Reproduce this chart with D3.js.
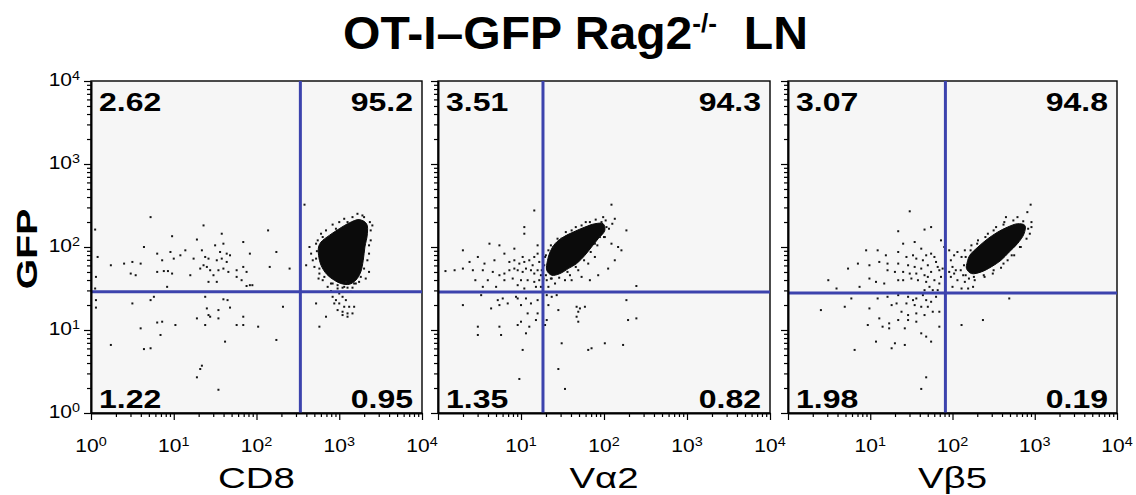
<!DOCTYPE html>
<html><head><meta charset="utf-8">
<script src="https://cdn.jsdelivr.net/npm/d3@7"></script>
<style>
html,body{margin:0;padding:0;background:#fff;}
svg{display:block;}
text{font-family:"Liberation Sans",Arial,Helvetica,sans-serif;fill:#000;}
</style></head><body>
<svg id="chart" width="1136" height="495"></svg>
<script>
// ---------------- data ----------------
const titleMain = "OT-I\u2013GFP Rag2";
const titleSup = "-/-";
const titleTail = "  LN";
const yAxisTitle = "GFP";
const panelMarkers = ["CD8", "V\u03b12", "V\u03b25"];
const decadeTicks = [1, 10, 100, 1000, 10000];
const decadeExponents = ["0", "1", "2", "3", "4"];
const gateX = [339, 18.4, 82];      // marker gate per panel
const gateY = [28.8, 28.7, 27.9];   // GFP gate per panel
const quadUL = ["2.62", "3.51", "3.07"];
const quadUR = ["95.2", "94.3", "94.8"];
const quadLL = ["1.22", "1.35", "1.98"];
const quadLR = ["0.95", "0.82", "0.19"];

// dense population outlines, [log10 marker, log10 GFP]
const cd8Core = [[2.78,2.06],[2.88,2.14],[3.00,2.22],[3.12,2.29],[3.24,2.33],[3.33,2.28],[3.34,2.16],[3.31,2.00],[3.29,1.84],[3.26,1.70],[3.20,1.60],[3.12,1.55],[3.02,1.56],[2.94,1.60],[2.85,1.67],[2.78,1.78],[2.75,1.90],[2.75,2.00]];
const va2Core = [[1.35,1.94],[1.41,2.04],[1.51,2.12],[1.63,2.18],[1.77,2.24],[1.89,2.28],[1.99,2.28],[2.01,2.20],[1.93,2.10],[1.85,2.00],[1.77,1.90],[1.67,1.80],[1.57,1.74],[1.47,1.68],[1.37,1.66],[1.31,1.72],[1.32,1.84]];
const vb5Core = [[2.21,1.90],[2.31,2.00],[2.43,2.10],[2.55,2.18],[2.67,2.24],[2.79,2.28],[2.88,2.26],[2.87,2.16],[2.79,2.04],[2.69,1.94],[2.59,1.84],[2.47,1.76],[2.35,1.70],[2.23,1.68],[2.17,1.74],[2.18,1.82]];

// individual events outside the dense core, [log10 marker, log10 GFP]
const cd8Events = [
[0.72,2.36],[1.36,2.26],[2.58,2.51],[2.14,2.20],[0.05,2.21],[1.58,2.16],[0.98,2.13],[1.28,2.09],[1.84,2.06],[1.50,2.02],[1.60,2.04],[0.64,2.00],[0.80,1.92],[0.96,1.94],[1.14,1.96],[1.34,1.96],[1.56,1.94],[1.64,1.92],[1.68,1.90],[1.92,1.92],[2.24,1.94],[0.08,1.88],[0.40,1.80],[0.50,1.82],[0.60,1.80],[0.86,1.84],[1.00,1.86],[1.08,1.90],[1.24,1.86],[1.38,1.88],[1.42,1.86],[1.52,1.84],[1.58,1.86],[1.64,1.82],[1.36,1.78],[1.40,1.76],[1.32,1.74],[1.44,1.72],[1.54,1.72],[1.60,1.74],[1.66,1.70],[1.76,1.72],[1.84,1.76],[1.88,1.70],[0.80,1.70],[0.88,1.71],[0.93,1.71],[0.48,1.68],[0.54,1.66],[0.98,1.68],[1.20,1.66],[1.48,1.66],[1.42,1.58],[1.52,1.58],[1.76,1.64],[1.82,1.60],[1.88,1.53],[1.92,1.54],[1.95,1.54],[0.92,1.52],[0.06,1.64],[0.05,1.50],[2.40,1.74],[2.16,1.76],[0.24,1.78],
[0.76,1.40],[0.72,1.36],[0.50,1.32],[0.06,1.36],[0.06,1.27],[1.38,1.40],[1.60,1.37],[1.65,1.36],[1.68,1.27],[1.40,1.26],[1.54,1.24],[1.42,1.18],[1.44,1.16],[1.28,1.14],[1.54,1.14],[1.38,1.06],[1.84,1.16],[1.76,1.06],[1.84,1.06],[2.02,1.04],[2.32,1.28],[1.02,1.06],[0.86,1.10],[0.80,1.09],[0.60,1.02],[0.84,0.94],[1.62,0.86],[2.24,0.88],[0.24,0.82],[0.64,0.77],[0.72,0.78],[1.34,0.57],[1.32,0.53],[1.28,0.43],[1.54,0.28],
[3.04,1.40],[2.92,1.40],[2.96,1.36],[3.08,1.36],[2.94,1.32],[3.00,1.32],[3.06,1.28],[3.12,1.28],[3.18,1.28],[3.04,1.22],[3.10,1.20],[3.16,1.20],[3.04,1.18],[3.10,1.16],[2.98,1.24],[2.84,1.16],[2.76,1.04],[2.72,1.32],
[2.64,2.00],[2.66,1.92],[2.68,1.84],[2.70,1.76],[2.76,1.68],[2.80,1.60],[2.86,1.52],[2.92,1.56],[2.98,1.54],[3.04,1.51],[3.10,1.51],[3.16,1.51],[3.20,1.56],[3.36,1.70],[3.38,2.08],[3.40,2.26],[3.28,2.38],[3.22,2.40],[3.10,2.30],[2.96,2.22],[2.80,2.12],[2.72,2.04],[2.75,1.62],[3.36,1.92],[3.32,1.62],[3.24,1.58],[3.08,1.58],[2.60,1.78],
[2.73,1.95],[2.74,2.08],[2.78,2.16],[2.84,2.20],[2.92,2.27],[3.00,2.30],[3.06,2.34],[3.16,2.36],[3.30,2.36],[3.37,2.30],[3.38,2.20],[3.36,2.02],[3.34,1.84],[3.30,1.74],[3.26,1.64],[3.18,1.56],[3.06,1.52],[2.98,1.50],[2.90,1.56],[2.82,1.64],[2.76,1.74],[2.72,1.86],[3.14,1.46],[3.00,1.44],[2.90,1.47]
];
const va2Events = [
[0.30,1.96],[0.62,2.04],[0.74,2.02],[0.80,1.92],[0.48,1.88],[0.38,1.82],[0.56,1.80],[0.68,1.84],[0.86,1.82],[0.92,1.84],[0.98,1.80],[1.04,1.82],[1.10,1.84],[1.16,1.88],[1.20,1.92],[1.22,1.82],[0.09,1.71],[0.20,1.72],[0.42,1.72],[0.54,1.72],[0.66,1.70],[0.74,1.66],[0.80,1.68],[0.86,1.72],[0.92,1.74],[0.96,1.72],[1.02,1.70],[1.06,1.74],[1.12,1.72],[1.16,1.68],[1.20,1.72],[1.24,1.66],[0.45,1.60],[0.60,1.60],[0.80,1.60],[0.90,1.62],[1.00,1.60],[1.08,1.60],[1.16,1.58],[1.22,1.60],[0.54,1.52],[0.70,1.52],[0.96,1.54],[1.04,1.50],[1.18,1.52],[1.24,1.52],[1.16,2.44],[1.04,2.24],[1.04,2.16],[1.20,2.02],[0.92,1.98],[1.02,1.88],[1.14,1.78],[0.30,1.74],
[0.52,1.42],[0.72,1.36],[0.78,1.38],[0.96,1.38],[1.06,1.38],[0.94,1.40],[0.30,1.30],[0.64,1.26],[0.74,1.30],[0.84,1.32],[1.00,1.30],[1.12,1.32],[1.20,1.36],[1.20,1.20],[1.08,1.20],[1.18,1.12],[1.00,1.10],[0.96,1.06],[1.10,1.04],[1.06,0.96],[0.74,1.04],[0.48,1.04],[0.48,0.94],[0.76,0.94],[1.02,0.76],[0.98,0.41],
[1.31,1.42],[1.37,1.40],[1.43,1.42],[1.33,1.30],[1.45,1.24],[1.31,1.12],[1.29,1.06],[1.67,1.28],[1.71,1.26],[1.69,1.22],[1.67,1.16],[1.69,1.10],[1.77,1.28],[2.27,1.36],[2.29,1.12],[2.39,1.14],[1.49,0.84],[1.81,0.76],[1.85,0.78],[2.01,0.84],[2.23,0.82],[1.45,0.53],[1.53,0.29],
[2.09,2.51],[1.99,2.36],[2.13,2.34],[2.01,2.12],[2.09,2.04],[2.17,2.00],[2.21,1.96],[2.27,2.20],[2.13,1.84],[2.05,1.74],[1.93,1.66],[1.83,1.60],[1.73,1.64],[1.61,1.60],[1.53,1.60],[1.41,1.56],[1.33,1.52],[1.31,1.60],[1.37,1.62],[2.39,1.53],[1.95,2.12],[1.89,2.04],[2.03,2.24],[1.97,2.30],[1.83,2.30],[1.73,2.26],[1.61,2.20],[1.49,2.10],[1.39,2.00],[1.33,1.96],[1.29,1.88],[1.89,1.88],[1.81,1.80],[1.69,1.72],[1.59,1.66],
[1.28,1.78],[1.30,1.90],[1.36,2.02],[1.44,2.10],[1.54,2.18],[1.66,2.24],[1.78,2.30],[1.90,2.33],[2.02,2.32],[2.06,2.22],[2.00,2.12],[1.92,2.02],[1.84,1.94],[1.76,1.84],[1.66,1.76],[1.56,1.70],[1.46,1.63],[1.36,1.62],[1.30,1.66],[2.10,2.28],[1.25,1.72],[1.27,1.62]
];
const vb5Events = [
[2.95,2.51],[2.91,2.42],[2.65,2.36],[2.79,2.36],[2.96,2.24],[2.94,2.16],[2.83,2.00],[2.75,1.90],[2.67,1.84],[2.59,1.75],[2.49,1.68],[2.39,1.64],[2.27,1.60],[2.15,1.58],[2.06,1.60],[2.02,1.68],[2.00,1.76],[1.98,1.84],[2.02,1.90],[2.06,1.94],[2.11,1.88],[2.15,1.96],[2.23,2.02],[2.31,2.08],[2.43,2.16],[2.53,2.24],[2.63,2.30],[1.96,1.96],[1.98,1.64],[2.00,1.52],[2.11,1.50],[2.19,1.50],[2.25,1.52],[2.04,1.72],[2.13,1.66],[1.96,1.70],
[1.48,2.43],[1.34,2.19],[1.66,2.21],[1.74,2.24],[1.40,2.04],[1.54,2.06],[1.62,1.98],[1.86,2.08],[1.90,2.00],[1.74,1.92],[1.78,1.88],[1.80,1.82],[1.82,1.76],[1.84,1.72],[1.88,1.74],[0.95,1.96],[1.09,1.96],[1.19,1.90],[1.34,1.94],[1.44,1.88],[1.52,1.90],[1.56,1.86],[1.64,1.84],[1.68,1.90],[0.73,1.74],[0.85,1.80],[0.99,1.78],[1.11,1.82],[1.21,1.80],[1.34,1.80],[1.46,1.78],[1.54,1.76],[1.62,1.74],[1.70,1.78],[1.21,1.72],[1.30,1.70],[1.40,1.70],[1.48,1.68],[1.56,1.68],[1.66,1.66],[1.74,1.70],[0.49,1.60],[0.59,1.50],[0.87,1.52],[0.99,1.62],[1.07,1.58],[1.17,1.56],[1.34,1.60],[1.40,1.60],[1.50,1.62],[1.58,1.60],[1.68,1.58],[1.78,1.60],[1.84,1.56],[1.76,1.48],[1.66,1.48],[1.82,1.48],[1.72,1.52],[1.86,1.64],[1.70,1.64],
[0.77,1.38],[0.40,1.24],[0.69,1.28],[0.99,1.26],[1.09,1.38],[1.21,1.40],[1.34,1.42],[1.46,1.40],[1.52,1.36],[1.56,1.38],[1.64,1.42],[1.68,1.36],[1.74,1.34],[1.80,1.40],[1.26,1.30],[1.32,1.32],[1.44,1.32],[1.54,1.30],[1.62,1.28],[1.70,1.28],[1.38,1.22],[1.46,1.18],[1.56,1.20],[1.66,1.18],[1.76,1.22],[1.84,1.22],[1.11,1.14],[1.23,1.08],[1.34,1.12],[1.46,1.12],[1.56,1.10],[0.97,1.06],[1.15,1.04],[1.23,1.02],[1.42,1.02],[1.62,0.96],[1.68,0.92],[1.07,0.86],[1.30,0.84],[1.42,0.82],[0.81,0.76],[1.26,0.78],[1.84,1.04],[1.74,0.86],[1.68,0.43],[1.62,0.29],
[2.11,1.06],[2.37,1.12],[2.69,1.38],
[2.14,1.78],[2.16,1.88],[2.22,1.96],[2.30,2.04],[2.40,2.12],[2.50,2.20],[2.62,2.27],[2.74,2.32],[2.86,2.31],[2.92,2.22],[2.90,2.10],[2.82,2.00],[2.72,1.90],[2.62,1.80],[2.50,1.72],[2.38,1.66],[2.26,1.64],[2.16,1.66],[2.10,1.72],[2.96,2.30],[2.20,1.62]
];
const panelCores = [cd8Core, va2Core, vb5Core];
const panelEvents = [cd8Events, va2Events, vb5Events];

// ---------------- layout ----------------
const svg = d3.select("#chart");
const panelLeft = [91, 438, 788];
const panelWidth = [331, 332, 329];
const plotTop = 81, plotBottom = 413;
const gateColor = "#3c43ad";
const minorTicks = [];
[1, 10, 100, 1000].forEach(d => { for (let m = 2; m <= 9; m++) minorTicks.push(m * d); });

function stretch(sel, sx) {
  sel.each(function () {
    const t = d3.select(this), x = +t.attr("x"), y = +t.attr("y");
    t.attr("transform", `translate(${x},${y}) scale(${sx},1) translate(${-x},${-y})`);
  });
}

// title
const title = svg.append("text").attr("x", 343).attr("y", 49)
  .style("font-weight", "bold").style("font-size", "46px").style("white-space", "pre");
title.append("tspan").text(titleMain);
title.append("tspan").text(titleSup).style("font-size", "25px").attr("dy", -17);
title.append("tspan").text(titleTail).attr("dy", 17);
{
  const w = title.node().getComputedTextLength();
  stretch(title, 465 / w);
}

// y axis title
svg.append("text").attr("x", 0).attr("y", 0)
  .attr("transform", "translate(37,249) rotate(-90) scale(1.35,1)")
  .attr("text-anchor", "middle").style("font-weight", "bold").style("font-size", "29px")
  .text(yAxisTitle);

panelMarkers.forEach((marker, i) => {
  const left = panelLeft[i], w = panelWidth[i];
  const x = d3.scaleLog().domain([1, 1e4]).range([left, left + w]);
  const y = d3.scaleLog().domain([1, 1e4]).range([plotBottom, plotTop]);
  const g = svg.append("g");

  g.append("rect").attr("x", left).attr("y", plotTop).attr("width", w)
    .attr("height", plotBottom - plotTop).attr("fill", "#f6f6f6")
    .attr("stroke", "#000").attr("stroke-width", 1.4);

  // dense population
  const line = d3.line().x(d => x(Math.pow(10, d[0]))).y(d => y(Math.pow(10, d[1])))
    .curve(d3.curveCatmullRomClosed.alpha(0.5));
  g.append("path").attr("d", line(panelCores[i])).attr("fill", "#0b0b0b")
    .attr("stroke", "#0b0b0b").attr("stroke-width", 1);

  // individual events
  g.selectAll("rect.ev").data(panelEvents[i]).join("rect").attr("class", "ev")
    .attr("x", d => x(Math.pow(10, d[0])) - 1).attr("y", d => y(Math.pow(10, d[1])) - 1)
    .attr("width", 2).attr("height", 2).attr("fill", "#151515");

  // quadrant gates
  g.append("line").attr("x1", x(gateX[i])).attr("x2", x(gateX[i]))
    .attr("y1", plotTop).attr("y2", plotBottom)
    .attr("stroke", gateColor).attr("stroke-width", 3);
  g.append("line").attr("x1", left).attr("x2", left + w)
    .attr("y1", y(gateY[i])).attr("y2", y(gateY[i]))
    .attr("stroke", gateColor).attr("stroke-width", 3);

  // axes
  const xMaj = g.append("g").attr("transform", `translate(0,${plotBottom})`)
    .call(d3.axisBottom(x).tickValues(decadeTicks).tickSize(7).tickSizeOuter(0).tickFormat(""));
  const xMin = g.append("g").attr("transform", `translate(0,${plotBottom})`)
    .call(d3.axisBottom(x).tickValues(minorTicks).tickSize(4).tickSizeOuter(0).tickFormat(""));
  const yMaj = g.append("g").attr("transform", `translate(${left},0)`)
    .call(d3.axisLeft(y).tickValues(decadeTicks).tickSize(7).tickSizeOuter(0).tickFormat(""));
  const yMin = g.append("g").attr("transform", `translate(${left},0)`)
    .call(d3.axisLeft(y).tickValues(minorTicks).tickSize(4).tickSizeOuter(0).tickFormat(""));
  [xMin, yMin].forEach(a => a.select(".domain").remove());
  [xMaj, yMaj].forEach(a => a.select(".domain").attr("stroke", "#000").attr("stroke-width", 2));
  g.selectAll(".tick line").attr("stroke", "#000").attr("stroke-width", 1.2);

  // x tick labels
  decadeTicks.forEach((v, k) => {
    if (i > 0 && k === 0) return;
    const t = g.append("text").attr("x", x(v)).attr("y", 452)
      .attr("text-anchor", "middle").style("font-size", "17.5px");
    t.append("tspan").text("10");
    t.append("tspan").text(decadeExponents[k]).attr("dy", -6).style("font-size", "12px");
    stretch(t, 1.2);
  });
  // y tick labels
  if (i === 0) {
    decadeTicks.forEach((v, k) => {
      const t = g.append("text").attr("x", 80).attr("y", y(v) + 5)
        .attr("text-anchor", "end").style("font-size", "17.5px");
      t.append("tspan").text("10");
      t.append("tspan").text(decadeExponents[k]).attr("dy", -6).style("font-size", "12px");
      stretch(t, 1.2);
    });
  }

  // quadrant percentages
  const qs = [
    [quadUL[i], left + 8, plotTop + 30, "start"],
    [quadUR[i], left + w - 9, plotTop + 30, "end"],
    [quadLL[i], left + 8, plotBottom - 5, "start"],
    [quadLR[i], left + w - 9, plotBottom - 5, "end"]
  ];
  qs.forEach(q => {
    const t = g.append("text").attr("x", q[1]).attr("y", q[2]).attr("text-anchor", q[3])
      .style("font-weight", "bold").style("font-size", "25px").text(q[0]);
    stretch(t, 1.28);
  });

  // marker axis title
  const xt = svg.append("text").attr("x", left + w / 2).attr("y", 488)
    .attr("text-anchor", "middle").style("font-size", "30px").text(marker);
  stretch(xt, 1.28);
});
</script>
</body></html>
